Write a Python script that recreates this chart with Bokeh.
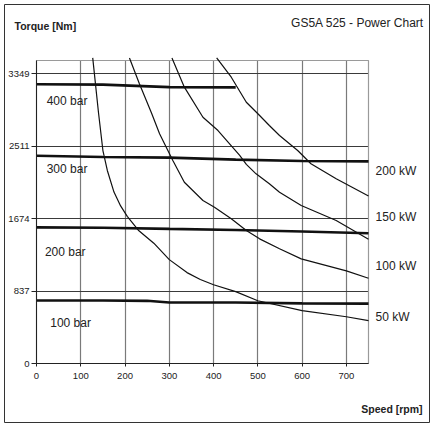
from bokeh.plotting import figure
from bokeh.models import Label, FixedTicker, Range1d
from bokeh.embed import file_html
from bokeh.resources import INLINE

# ---- data ----
x_ticks = [0, 100, 200, 300, 400, 500, 600, 700]
y_ticks = [0, 837, 1674, 2511, 3349]
x_max = 750
y_max = 3500

p400_rpm = [0, 150, 300, 450]
p400_T = [3225, 3222, 3192, 3190]
p300_rpm = [0, 150, 300, 450, 600, 750]
p300_T = [2400, 2385, 2378, 2355, 2340, 2335]
p200_rpm = [0, 150, 300, 450, 600, 750]
p200_T = [1572, 1568, 1555, 1543, 1525, 1505]
p100_rpm = [0, 150, 250, 300, 450, 600, 750]
p100_T = [728, 728, 724, 705, 704, 695, 692]

kw50_rpm = [127, 140, 150, 160, 175, 190, 205, 230, 265, 300, 340, 370, 400, 450, 500, 600, 700, 750]
kw50_T = [3560, 2900, 2460, 2230, 1980, 1820, 1700, 1540, 1390, 1200, 1050, 970, 910, 830, 725, 610, 540, 495]
kw100_rpm = [210, 232, 260, 278, 308, 334, 376, 402, 440, 474, 504, 549, 598, 700, 750]
kw100_T = [3560, 3237, 2890, 2653, 2345, 2094, 1883, 1805, 1671, 1536, 1440, 1325, 1209, 1070, 985]
kw150_rpm = [306, 334, 376, 410, 459, 474, 496, 526, 549, 598, 677, 750]
kw150_T = [3560, 3192, 2845, 2691, 2403, 2300, 2191, 2076, 1979, 1825, 1652, 1435]
kw200_rpm = [407, 440, 474, 504, 526, 549, 590, 620, 677, 750]
kw200_T = [3560, 3307, 3018, 2865, 2749, 2634, 2460, 2307, 2134, 1935]

pressure_labels = ["400 bar", "300 bar", "200 bar", "100 bar"]
power_labels = ["200 kW", "150 kW", "100 kW", "50 kW"]

FONT = "Liberation Sans"
INK = "#222222"

# the frame covers the whole boxed chart; the axes sit at 0 inside it
p = figure(frame_width=425, frame_height=418,
           min_border_left=4, min_border_right=1, min_border_top=4, min_border_bottom=1,
           x_range=Range1d(-72.3, 887.8), y_range=Range1d(-681.5, 4147),
           output_backend="svg", toolbar_location=None)

p.background_fill_color = "white"
p.border_fill_color = "white"
p.outline_line_color = "#333333"
p.outline_line_width = 1

p.xaxis.ticker = FixedTicker(ticks=x_ticks)
p.yaxis.ticker = FixedTicker(ticks=y_ticks)
p.xaxis.fixed_location = 0
p.yaxis.fixed_location = 0
p.xaxis.bounds = (0, x_max)
p.yaxis.bounds = (0, y_max)
for ax in (p.xaxis[0], p.yaxis[0]):
    ax.major_label_text_font = FONT
    ax.major_label_text_font_size = "9.5px"
    ax.major_label_text_color = INK
    ax.axis_line_color = INK
    ax.major_tick_line_color = INK
    ax.minor_tick_line_color = None
    ax.major_tick_in = 0
p.xaxis.major_tick_out = 3
p.xaxis.major_label_standoff = 6
p.yaxis.major_tick_out = 5
p.yaxis.major_label_standoff = 2

p.xgrid.grid_line_color = "#7a7a7a"
p.xgrid.grid_line_width = 1.2
p.ygrid.grid_line_color = "#3a3a3a"
p.ygrid.grid_line_width = 1
p.xgrid.bounds = (0, x_max)
p.ygrid.bounds = (0, y_max)
try:
    p.xgrid.cross_bounds = (0, y_max)
    p.ygrid.cross_bounds = (0, x_max)
except Exception:
    p.xgrid.visible = False
    p.ygrid.visible = False
    p.segment(x0=x_ticks[1:], y0=0, x1=x_ticks[1:], y1=y_max, line_color="#7a7a7a", line_width=1.2)
    p.segment(x0=0, y0=y_ticks[1:], x1=x_max, y1=y_ticks[1:], line_color="#3a3a3a", line_width=1)

# grey box closing the plot area (top and right)
p.line([0, x_max, x_max], [y_max, y_max, 0], line_color="#9a9a9a", line_width=1.2)

# pressure lines (thick)
for xs, ys in [(p400_rpm, p400_T), (p300_rpm, p300_T), (p200_rpm, p200_T), (p100_rpm, p100_T)]:
    p.line(xs, ys, line_color="#111111", line_width=2.6)

# power curves (thin), clipped to the plot box
for xs, ys in [(kw50_rpm, kw50_T), (kw100_rpm, kw100_T), (kw150_rpm, kw150_T), (kw200_rpm, kw200_T)]:
    ys_c = [min(v, y_max + 30) for v in ys]
    p.line(xs, ys_c, line_color="#111111", line_width=1.2)

# pressure labels
for txt, (lx, ly) in zip(pressure_labels, [(23, 3038), (23, 2246), (19, 1287), (31, 466)]):
    p.add_layout(Label(x=lx, y=ly, text=txt, text_font=FONT, text_font_size="12px",
                       text_color=INK, text_baseline="middle"))

# power labels right of the plot box
for txt, ly in zip(power_labels, [2229, 1689, 1132, 535]):
    p.add_layout(Label(x=766, y=ly, text=txt, text_font=FONT,
                       text_font_size="12px", text_color=INK, text_baseline="middle"))

# captions
p.add_layout(Label(x=20, y=3893, text="Torque [Nm]", text_font=FONT, text_font_size="10.5px",
                   text_font_style="bold", text_color=INK, text_baseline="middle",
                   text_align="center"))
p.add_layout(Label(x=725, y=3933, text="GS5A 525 - Power Chart", text_font=FONT,
                   text_font_size="12px", text_color=INK, text_baseline="middle",
                   text_align="center"))
p.add_layout(Label(x=803, y=-520, text="Speed [rpm]", text_font=FONT, text_font_size="10.5px",
                   text_font_style="bold", text_color=INK, text_baseline="middle",
                   text_align="center"))

open("out.html", "w").write(file_html(p, INLINE))
